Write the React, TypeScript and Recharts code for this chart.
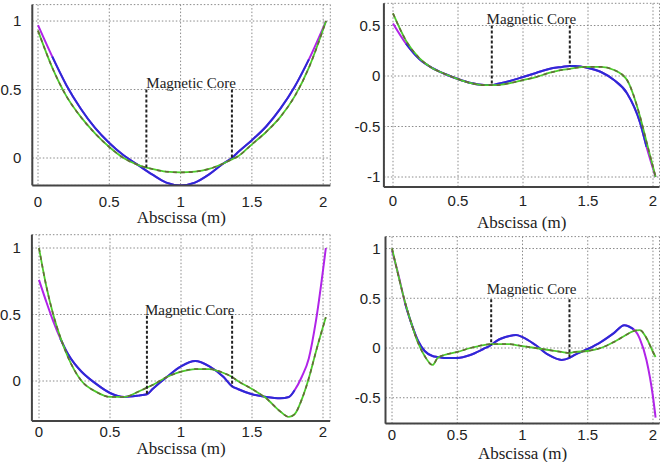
import React from 'react';
import { LineChart, Line, XAxis, YAxis, CartesianGrid, ReferenceLine, ReferenceDot } from 'recharts';

const X_TICKS = [0, 0.5, 1, 1.5, 2];
const CORE_LEFT = 0.76;
const CORE_RIGHT = 1.36;
const CORE_TEXT = 'Magnetic Core';
const X_LABEL = 'Abscissa (m)';

// Panel A (top-left)
const A_X = [0, 0.1, 0.2, 0.3, 0.4, 0.5, 0.6, 0.7, 0.8, 0.9, 1.0, 1.1, 1.2, 1.3, 1.36, 1.4, 1.5, 1.6, 1.7, 1.8, 1.9, 2.02];
const A_MAG = [0.97, 0.74, 0.53, 0.36, 0.22, 0.11, 0.02, -0.05, -0.12, -0.18, -0.2, -0.18, -0.12, -0.04, 0.0, 0.04, 0.13, 0.23, 0.36, 0.52, 0.72, 1.0];
const A_GREEN = [0.93, 0.66, 0.45, 0.3, 0.18, 0.08, 0.0, -0.05, -0.08, -0.1, -0.105, -0.1, -0.08, -0.04, -0.01, 0.01, 0.1, 0.19, 0.3, 0.45, 0.66, 1.0];
const A_Y_TICKS = [0, 0.5, 1];

// Panel B (top-right)
const B_X = [0, 0.1, 0.2, 0.3, 0.4, 0.5, 0.6, 0.7, 0.76, 0.8, 0.9, 1.0, 1.1, 1.2, 1.3, 1.36, 1.4, 1.5, 1.6, 1.7, 1.8, 1.9, 1.95, 2.02];
const B_MAG = [0.52, 0.32, 0.17, 0.08, 0.02, -0.03, -0.07, -0.09, -0.09, -0.08, -0.05, -0.01, 0.03, 0.07, 0.09, 0.1, 0.1, 0.08, 0.04, -0.04, -0.17, -0.46, -0.7, -1.0];
const B_GREEN = [0.62, 0.35, 0.18, 0.08, 0.02, -0.03, -0.07, -0.09, -0.09, -0.09, -0.07, -0.04, -0.01, 0.03, 0.06, 0.07, 0.08, 0.09, 0.09, 0.06, -0.04, -0.4, -0.65, -1.0];
const B_Y_TICKS = [-1, -0.5, 0, 0.5];

// Panel C (bottom-left)
const C_X = [0, 0.05, 0.1, 0.15, 0.2, 0.25, 0.3, 0.4, 0.5, 0.6, 0.7, 0.76, 0.8, 0.9, 1.0, 1.1, 1.2, 1.3, 1.36, 1.4, 1.5, 1.6, 1.7, 1.76, 1.8, 1.85, 1.9, 1.95, 2.02];
const C_MAG = [0.76, 0.6, 0.45, 0.32, 0.21, 0.13, 0.07, -0.02, -0.09, -0.12, -0.11, -0.1, -0.06, 0.03, 0.11, 0.15, 0.11, 0.03, -0.04, -0.06, -0.1, -0.12, -0.13, -0.12, -0.07, 0.03, 0.17, 0.45, 1.0];
const C_GREEN = [1.0, 0.72, 0.5, 0.33, 0.19, 0.08, 0.0, -0.08, -0.12, -0.12, -0.08, -0.05, -0.03, 0.03, 0.07, 0.09, 0.09, 0.06, 0.03, 0.0, -0.06, -0.13, -0.23, -0.27, -0.25, -0.14, 0.02, 0.22, 0.48];
const C_Y_TICKS = [0, 0.5, 1];

// Panel D (bottom-right)
const D_X = [0, 0.05, 0.1, 0.15, 0.2, 0.25, 0.31, 0.35, 0.4, 0.5, 0.6, 0.7, 0.76, 0.8, 0.9, 0.95, 1.0, 1.1, 1.2, 1.3, 1.36, 1.4, 1.5, 1.6, 1.7, 1.78, 1.85, 1.9, 1.95, 2.0, 2.02];
const D_MAG = [0.98, 0.73, 0.45, 0.24, 0.07, -0.03, -0.08, -0.09, -0.1, -0.1, -0.07, -0.01, 0.03, 0.07, 0.12, 0.13, 0.11, 0.03, -0.07, -0.12, -0.1, -0.07, -0.01, 0.06, 0.15, 0.23, 0.19, 0.09, -0.12, -0.49, -0.7];
const D_GREEN = [1.0, 0.72, 0.46, 0.24, 0.05, -0.08, -0.17, -0.1, -0.07, -0.04, 0.0, 0.03, 0.04, 0.04, 0.04, 0.03, 0.02, 0.0, -0.02, -0.04, -0.05, -0.04, -0.03, 0.0, 0.06, 0.12, 0.17, 0.18, 0.1, -0.04, -0.09];
const D_Y_TICKS = [-0.5, 0, 0.5, 1];

type Panel = {
  xs: number[]; mag: number[]; green: number[]; yTicks: number[];
  blueRange: [number, number];
  L: number; T: number; R: number; B: number;
  xDomain: [number, number]; yDomain: [number, number];
  yw: number; xh: number; xTickMargin: number; yTickMargin: number; labelOffset: number;
  coreTop: number; coreLeftEnd: number; coreRightEnd: number;
  textX: number; textY: number;
};

const PANELS: Panel[] = [
  { xs: A_X, mag: A_MAG, green: A_GREEN, yTicks: A_Y_TICKS, blueRange: [0.1, 1.9],
    L: 32.3, T: 4.6, R: 330.3, B: 185.4, xDomain: [-0.04, 2.05], yDomain: [-0.2, 1.12],
    yw: 30, xh: 40, xTickMargin: 10.7, yTickMargin: 11, labelOffset: 2.2,
    coreTop: 0.5, coreLeftEnd: -0.08, coreRightEnd: 0.0, textX: 0.76, textY: 0.55 },
  { xs: B_X, mag: B_MAG, green: B_GREEN, yTicks: B_Y_TICKS, blueRange: [0.05, 1.95],
    L: 383.9, T: 3.3, R: 659.5, B: 187.1, xDomain: [-0.07, 2.05], yDomain: [-1.1, 0.72],
    yw: 40, xh: 40, xTickMargin: 8, yTickMargin: 3.5, labelOffset: -0.5,
    coreTop: 0.5, coreLeftEnd: -0.09, coreRightEnd: 0.1, textX: 0.72, textY: 0.57 },
  { xs: C_X, mag: C_MAG, green: C_GREEN, yTicks: C_Y_TICKS, blueRange: [0.15, 1.8],
    L: 31.9, T: 234.7, R: 330.1, B: 420.9, xDomain: [-0.05, 2.05], yDomain: [-0.3, 1.1],
    yw: 30, xh: 36, xTickMargin: 5.7, yTickMargin: 11, labelOffset: 2.9,
    coreTop: 0.49, coreLeftEnd: -0.1, coreRightEnd: -0.04, textX: 0.746, textY: 0.54 },
  { xs: D_X, mag: D_MAG, green: D_GREEN, yTicks: D_Y_TICKS, blueRange: [0.1, 1.85],
    L: 385.5, T: 236.6, R: 659.5, B: 423.6, xDomain: [-0.05, 2.05], yDomain: [-0.76, 1.12],
    yw: 40, xh: 36, xTickMargin: 6, yTickMargin: 5, labelOffset: 0.5,
    coreTop: 0.49, coreLeftEnd: 0.03, coreRightEnd: -0.1, textX: 0.726, textY: 0.6 },
];

const W = 660;
const H = 462;
const SANS = '"Liberation Sans", Arial, sans-serif';
const SERIF = '"Liberation Serif", "Times New Roman", serif';

function PanelChart({ p }: { p: Panel }) {
  const data = p.xs.map((x, i) => ({
    x,
    m: p.mag[i],
    b: x >= p.blueRange[0] && x <= p.blueRange[1] ? p.mag[i] : null,
    g: p.green[i],
  }));
  return (
    <div style={{ position: 'absolute', left: 0, top: 0 }}>
      <LineChart
        width={W}
        height={H}
        data={data}
        margin={{ left: p.L - p.yw, top: p.T, right: W - p.R, bottom: H - p.B - p.xh }}
      >
        <CartesianGrid stroke="#8a8a8a" strokeDasharray="1.5 2" />
        <XAxis
          type="number" dataKey="x" domain={p.xDomain} ticks={X_TICKS} allowDataOverflow interval={0}
          height={p.xh} tickSize={0} tickMargin={p.xTickMargin}
          axisLine={{ stroke: '#444', strokeWidth: 2 }}
          tick={{ fontSize: 15, fill: '#222', fontFamily: SANS }}
          label={{ value: X_LABEL, position: 'insideBottom', offset: p.labelOffset, fontSize: 17, fill: '#222', fontFamily: SERIF }}
        />
        <YAxis
          type="number" domain={p.yDomain} ticks={p.yTicks} allowDataOverflow interval={0}
          width={p.yw} tickSize={0} tickMargin={p.yTickMargin}
          axisLine={{ stroke: '#444', strokeWidth: 2 }}
          tick={{ fontSize: 15, fill: '#222', fontFamily: SANS }}
        />
        <Line type="monotone" dataKey="m" stroke="#b024e8" strokeWidth={2} dot={false} isAnimationActive={false} />
        <Line type="monotone" dataKey="b" stroke="#2b2bd6" strokeWidth={2} dot={false} isAnimationActive={false} />
        <Line type="monotone" dataKey="g" stroke="#4ccc2a" strokeWidth={1.8} dot={false} isAnimationActive={false} />
        <Line type="monotone" dataKey="g" stroke="#66683a" strokeWidth={1.6} strokeDasharray="4 4" dot={false} isAnimationActive={false} />
        <ReferenceLine segment={[{ x: CORE_LEFT, y: p.coreTop }, { x: CORE_LEFT, y: p.coreLeftEnd }]} stroke="#222" strokeWidth={2} strokeDasharray="3 2" />
        <ReferenceLine segment={[{ x: CORE_RIGHT, y: p.coreTop }, { x: CORE_RIGHT, y: p.coreRightEnd }]} stroke="#222" strokeWidth={2} strokeDasharray="3 2" />
        <ReferenceDot
          x={p.textX} y={p.textY} r={0} stroke="none" fill="none"
          label={{ value: CORE_TEXT, position: 'right', offset: 0, fontSize: 15, fill: '#222', fontFamily: SERIF }}
        />
      </LineChart>
    </div>
  );
}

export default function App() {
  return (
    <div style={{ position: 'absolute', left: 0, top: 0, width: W, height: H, background: '#fff' }}>
      {PANELS.map((p, i) => (
        <PanelChart key={i} p={p} />
      ))}
    </div>
  );
}
